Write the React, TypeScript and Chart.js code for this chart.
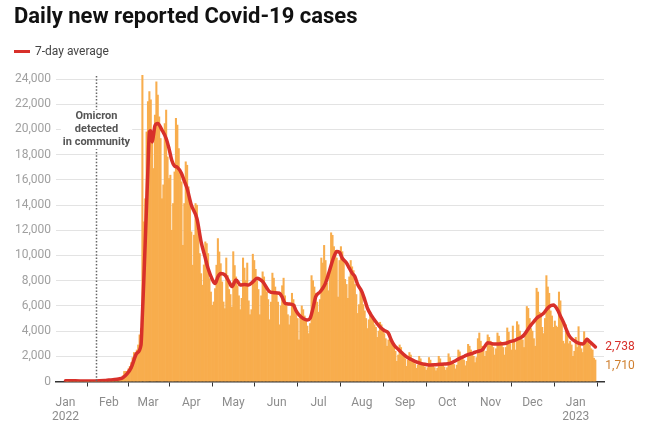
import React, { useEffect, useRef } from "react";
import { Chart, registerables } from "chart.js";

Chart.register(...registerables);

// Day index 0 = 1 January 2022
const title = "Daily new reported Covid-19 cases";
const legendLabel = "7-day average";

const dailyCases = [
  40, 25, 30, 70, 55, 50, 60, 45, 40, 35,
  60, 50, 45, 40, 45, 35, 25, 55, 45, 40,
  35, 40, 35, 50, 100, 90, 85, 100, 80, 70,
  90, 150, 160, 170, 150, 130, 130, 180, 200, 230,
  310, 450, 800, 810, 800, 1000, 1200, 1500, 1900, 2300,
  2000, 2500, 2900, 3700, 4200, 24300, 12670, 14500, 19800, 22200,
  23000, 22350, 19060, 16900, 21130, 23780, 22730, 21000, 19280, 14500,
  15600, 20470, 21530, 17820, 16100, 16370, 12000, 14120, 16630, 20870,
  20340, 18480, 16630, 15840, 10810, 14120, 17430, 17160, 15440, 14390,
  11870, 9230, 11610, 14120, 13990, 12130, 10150, 8560, 7640, 9250,
  11080, 10940, 10150, 8160, 7100, 6050, 6310, 7370, 9230, 11340,
  10280, 9350, 7900, 6310, 5780, 9800, 8400, 7300, 6900, 5900,
  10300, 9200, 8300, 7600, 6800, 5700, 6600, 9800, 9000, 8000,
  9400, 6400, 5300, 5700, 10100, 9600, 8900, 8000, 7300, 5300,
  6800, 8700, 8300, 7600, 7100, 6500, 4900, 6300, 8600, 8200,
  7500, 7000, 6300, 4500, 6000, 7600, 8200, 6800, 6000, 5300,
  4500, 5200, 7000, 6500, 6100, 5400, 5000, 3300, 5100, 6000,
  5700, 5200, 4800, 4400, 3800, 4600, 8400, 8000, 7500, 7000,
  6300, 5500, 6500, 9800, 9400, 10800, 9600, 7800, 7200, 8800,
  11800, 11600, 10700, 10400, 9800, 6700, 9600, 10700, 10300, 9500,
  8100, 7700, 6600, 8300, 9600, 9100, 8800, 7700, 6900, 5400,
  6100, 7300, 6900, 6100, 5600, 5000, 4200, 4900, 5500, 5000,
  4900, 4500, 4300, 3500, 4000, 4700, 4500, 4100, 3800, 3400,
  2800, 3300, 3700, 3400, 3000, 2700, 2400, 1600, 2100, 2900,
  2700, 2300, 2100, 1800, 1200, 1700, 2300, 2100, 1800, 1600,
  1400, 1050, 1300, 2000, 1800, 1500, 1300, 1150, 900, 1100,
  1900, 1700, 1400, 1250, 1100, 850, 1050, 2000, 1800, 1450,
  1300, 1150, 900, 1100, 2200, 1900, 1600, 1450, 1350, 1000,
  1300, 2500, 2350, 2000, 1900, 1700, 1250, 1600, 2950, 2800,
  2500, 2200, 2000, 1500, 1900, 3400, 3850, 3200, 2800, 2500,
  2000, 2400, 3700, 3500, 3200, 3000, 2700, 2100, 2600, 3850,
  3600, 3200, 3000, 2700, 2100, 2700, 4250, 3900, 3000, 2500,
  4400, 3200, 2500, 4750, 4500, 4000, 3600, 3300, 2700, 3600,
  5950, 5800, 5000, 4200, 4000, 3400, 2800, 7400, 7100, 5500,
  5300, 4300, 3800, 5000, 8400, 7500, 7000, 5600, 5200, 4300,
  4800, 4400, 4300, 7100, 6400, 5100, 3200, 3000, 4500, 3900,
  3000, 3200, 2900, 2000, 2400, 3500, 2700, 4350, 3000, 2600,
  2300, 3950, 2950, 3450, 3300, 2900, 2600, 2500, 1850, 1710,
];

const avgDays = [
  0, 7, 14, 21, 28, 31, 35, 38, 41, 44, 47, 51, 54, 55, 56, 57, 58, 59, 60, 61,
  62, 63, 64, 66, 69, 72, 74, 76, 78, 80, 83, 85, 87, 90, 94, 97, 100, 102, 105, 107,
  109, 111, 114, 117, 119, 122, 125, 128, 131, 134, 137, 141, 146, 149, 153, 155, 157, 160, 163, 165,
  167, 170, 173, 175, 177, 179, 182, 184, 186, 189, 192, 194, 196, 198, 201, 203, 205, 207, 209, 212,
  214, 216, 219, 221, 224, 226, 228, 231, 233, 235, 238, 241, 244, 247, 250, 254, 257, 261, 264, 268,
  271, 275, 279, 282, 285, 287, 290, 293, 296, 298, 300, 302, 305, 308, 312, 315, 318, 321, 323, 326,
  328, 330, 333, 335, 337, 340, 342, 344, 346, 349, 350, 352, 354, 356, 358, 360, 362, 365, 367, 370,
  371, 373, 375, 377, 379,
];
const avgValues = [
  50, 50, 45, 45, 75, 110, 150, 200, 300, 600, 1100, 2240, 2900, 5300, 8000, 11000, 14000, 17000, 19800, 19900,
  19000, 19600, 20300, 20470, 19950, 19280, 18500, 17560, 17100, 17000, 16500, 15900, 15310, 14000, 12930, 11080, 9800, 8960, 8100, 7770,
  8300, 8560, 8460, 7900, 7530, 8060, 7660, 7700, 7660, 7900, 8190, 7930, 7130, 7050, 7000, 6700, 6210, 6150, 6070, 5600,
  5280, 5000, 4880, 5020, 5800, 6730, 7100, 7400, 7800, 8850, 9900, 10310, 10250, 9780, 9400, 8990, 8600, 8320, 7700, 7130,
  6500, 5810, 5200, 4880, 4450, 4220, 4050, 3830, 3300, 2900, 2550, 2240, 1950, 1760, 1600, 1440, 1370, 1310, 1320, 1360,
  1380, 1440, 1650, 1840, 1980, 2100, 2200, 2320, 2420, 2500, 2800, 3080, 3000, 2980, 3000, 3030, 3160, 3250, 3350, 3500,
  3690, 4000, 4490, 4750, 5020, 5250, 5420, 5700, 5940, 6070, 6000, 5680, 5200, 4750, 4200, 3690, 3400, 3160, 3050, 2980,
  3050, 3350, 3150, 2950, 2738,
];

const monthTickDays = [0, 31, 59, 90, 120, 151, 181, 212, 243, 273, 304, 334, 365];
const monthTickLabels: (string | string[])[] = [
  ["Jan", "2022"], "Feb", "Mar", "Apr", "May", "Jun", "Jul", "Aug", "Sep", "Oct", "Nov", "Dec", ["Jan", "2023"],
];
const yTickValues = [0, 2000, 4000, 6000, 8000, 10000, 12000, 14000, 16000, 18000, 20000, 22000, 24000];

const omicronDay = 22; // 23 January 2022
const omicronLabel = ["Omicron", "detected", "in community"];

const BAR_COLOR = "#f8ad4d";
const LINE_COLOR = "#d8302a";
const DAILY_LABEL_COLOR = "#cf7f2e";
const FONT = "Roboto, 'Noto Sans', sans-serif";

const fmt = (v: number) => v.toLocaleString("en-US");

const omicronPlugin = {
  id: "omicronNote",
  afterDatasetsDraw(chart: any) {
    const { ctx, chartArea, scales } = chart;
    const px = Math.round(scales.x.getPixelForValue(omicronDay)) + 0.5;
    ctx.save();
    ctx.strokeStyle = "#666";
    ctx.lineWidth = 1.5;
    ctx.setLineDash([1.5, 1.8]);
    ctx.beginPath();
    ctx.moveTo(px, chartArea.top - 3);
    ctx.lineTo(px, chartArea.bottom);
    ctx.stroke();
    ctx.setLineDash([]);
    ctx.font = `bold 11px ${FONT}`;
    ctx.textAlign = "center";
    ctx.textBaseline = "middle";
    const lh = 12.7;
    const y0 = chartArea.top + 37.7;
    let w = 0;
    omicronLabel.forEach((t) => (w = Math.max(w, ctx.measureText(t).width)));
    ctx.fillStyle = "#ffffff";
    ctx.fillRect(px - w / 2 - 2, y0 - 7, w + 4, lh * (omicronLabel.length - 1) + 14);
    ctx.fillStyle = "#555555";
    omicronLabel.forEach((t, i) => ctx.fillText(t, px, y0 + i * lh));
    ctx.restore();
  },
};

const endLabelPlugin = {
  id: "endLabels",
  afterDatasetsDraw(chart: any) {
    const { ctx, scales } = chart;
    const lastDay = dailyCases.length - 1;
    const lastAvg = avgValues[avgValues.length - 1];
    const lastDaily = dailyCases[lastDay];
    const px = scales.x.getPixelForValue(lastDay) + 10;
    const yAvg = scales.y.getPixelForValue(lastAvg);
    let yDaily = scales.y.getPixelForValue(lastDaily);
    if (yDaily - yAvg < 19) yDaily = yAvg + 19;
    ctx.save();
    ctx.font = `12px ${FONT}`;
    ctx.textAlign = "left";
    ctx.textBaseline = "middle";
    ctx.fillStyle = LINE_COLOR;
    ctx.fillText(fmt(lastAvg), px, yAvg);
    ctx.fillStyle = DAILY_LABEL_COLOR;
    ctx.fillText(fmt(lastDaily), px, yDaily);
    ctx.restore();
  },
};

export default function App() {
  const canvasRef = useRef<HTMLCanvasElement | null>(null);

  useEffect(() => {
    if (!canvasRef.current) return;
    const barData = dailyCases.map((v, i) => ({ x: i, y: v }));
    const lineData = avgDays.map((d, i) => ({ x: d, y: avgValues[i] }));
    const chart = new Chart(canvasRef.current, {
      type: "bar",
      data: {
        datasets: [
          {
            type: "line",
            label: legendLabel,
            data: lineData as any,
            borderColor: LINE_COLOR,
            borderWidth: 3.5,
            pointRadius: 0,
            cubicInterpolationMode: "monotone",
            fill: false,
            order: 0,
            borderJoinStyle: "round",
            borderCapStyle: "round",
          } as any,
          {
            type: "bar",
            label: "Daily cases",
            data: barData as any,
            backgroundColor: BAR_COLOR,
            borderWidth: 0,
            barPercentage: 1,
            categoryPercentage: 1,
            order: 1,
            clip: false,
          } as any,
        ],
      },
      options: {
        animation: false,
        responsive: false,
        maintainAspectRatio: false,
        layout: { padding: { top: 79, right: 50, bottom: 0, left: 0 } },
        plugins: { legend: { display: false }, tooltip: { enabled: false }, title: { display: false } },
        scales: {
          x: {
            type: "linear",
            min: -6.8,
            max: 385.2,
            offset: false,
            afterBuildTicks: (scale: any) => {
              scale.ticks = monthTickDays.map((v) => ({ value: v }));
            },
            afterFit: (scale: any) => {
              scale.height = 44.5;
            },
            ticks: {
              autoSkip: false,
              maxRotation: 0,
              padding: 9,
              color: "#8c8c8c",
              font: { family: FONT, size: 12, lineHeight: 1.2 },
              callback: (v: any) => {
                const i = monthTickDays.indexOf(Number(v));
                return i >= 0 ? monthTickLabels[i] : "";
              },
            },
            grid: { drawOnChartArea: false, drawTicks: true, tickLength: 5, color: "#333", lineWidth: 1 },
            border: { display: true, color: "#333", width: 1.5 },
          },
          y: {
            type: "linear",
            min: 0,
            max: 24000,
            afterBuildTicks: (scale: any) => {
              scale.ticks = yTickValues.map((v) => ({ value: v }));
            },
            afterFit: (scale: any) => {
              scale.width = 56;
            },
            ticks: {
              padding: 5,
              color: "#a0a0a0",
              font: { family: FONT, size: 12 },
              callback: (v: any) => fmt(Number(v)),
            },
            grid: { drawTicks: false, color: "#e3e3e3", lineWidth: 1 },
            border: { display: false },
          },
        },
      },
      plugins: [omicronPlugin, endLabelPlugin],
    });
    return () => chart.destroy();
  }, []);

  return (
    <div style={{ position: "fixed", left: 0, top: 0, width: 654, height: 426, background: "#fff", fontFamily: FONT, overflow: "hidden" }}>
      <canvas ref={canvasRef} width={654} height={426} style={{ position: "absolute", left: 0, top: 0, width: 654, height: 426 }} />
      <div style={{ position: "absolute", left: 14, top: 5, fontSize: 22, lineHeight: "22px", fontWeight: 700, color: "#111", whiteSpace: "nowrap" }}>
        {title}
      </div>
      <div style={{ position: "absolute", left: 14, top: 44, height: 14, display: "flex", alignItems: "center", fontSize: 12, color: "#444" }}>
        <span style={{ display: "inline-block", width: 16, height: 3, background: LINE_COLOR, marginRight: 5 }} />
        <span>{legendLabel}</span>
      </div>
    </div>
  );
}
